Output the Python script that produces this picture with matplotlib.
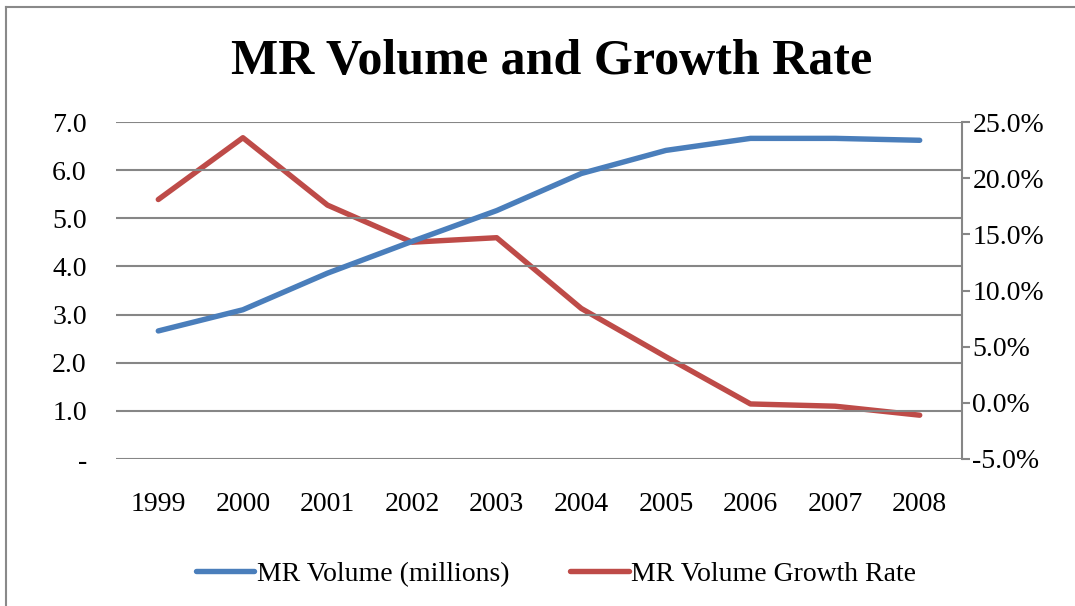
import matplotlib
matplotlib.use("Agg")
import matplotlib.pyplot as plt
from matplotlib.lines import Line2D
from matplotlib.ticker import FuncFormatter

years = ["1999", "2000", "2001", "2002", "2003", "2004", "2005", "2006", "2007", "2008"]
volume = [2.66, 3.10, 3.86, 4.52, 5.16, 5.93, 6.41, 6.66, 6.66, 6.62]
growth = [18.1, 23.6, 17.6, 14.3, 14.7, 8.4, 4.1, -0.1, -0.3, -1.1]

blue = "#4A7EBB"
red = "#BE4B48"
grid_grey = "#868686"

plt.rcParams["font.family"] = ["Liberation Serif", "DejaVu Serif"]

fig = plt.figure(figsize=(10.75, 6.06), dpi=100)
ax1 = fig.add_axes([116 / 1075, 1 - 459 / 606, (962 - 116) / 1075, (459 - 122) / 606])
ax2 = ax1.twinx()

x = range(len(years))
l1, = ax1.plot(x, volume, color=blue, lw=3.9, solid_capstyle="round", solid_joinstyle="round", zorder=3)
l2, = ax2.plot(x, growth, color=red, lw=3.9, solid_capstyle="round", solid_joinstyle="round", zorder=3)

ax1.set_xlim(-0.5, len(years) - 0.5)
ax1.set_ylim(0, 7)
ax1.set_yticks(range(8))
ax1.yaxis.set_major_formatter(FuncFormatter(lambda v, p: "-" if v == 0 else f"{v:.1f}"))
ax1.set_xticks(list(x))
ax1.set_xticklabels(years)
ax1.grid(axis="y", color=grid_grey, lw=1.5)
ax1.set_axisbelow(True)
ax1.tick_params(axis="y", length=0, pad=21, labelsize=20)
ax1.tick_params(axis="x", length=0, pad=24, labelsize=20)
for s in ["left", "top", "right", "bottom"]:
    ax1.spines[s].set_visible(False)

ax2.set_ylim(-5, 25)
ax2.set_yticks(range(-5, 26, 5))
ax2.yaxis.set_major_formatter(FuncFormatter(lambda v, p: f"{v:.1f}%"))
ax2.tick_params(axis="y", length=6, width=1.5, color=grid_grey, pad=1.5, labelsize=20)
for s in ["left", "top", "bottom"]:
    ax2.spines[s].set_visible(False)
ax2.spines["right"].set_color(grid_grey)
ax2.spines["right"].set_linewidth(1.5)
ax1.set_zorder(ax2.get_zorder() + 1)
ax1.patch.set_visible(False)

fig.text(552 / 1075, 1 - 62 / 606, "MR Volume and Growth Rate", ha="center", va="center",
         fontsize=36, fontweight="bold")

fig.legend([l1, l2], ["MR Volume (millions)", "MR Volume Growth Rate"],
           loc="center", bbox_to_anchor=(556 / 1075, 1 - 574 / 606), ncol=2, frameon=False,
           fontsize=20, handlelength=2.1, handletextpad=0.1, columnspacing=2.2)

# chart frame along the top and left edges
fig.add_artist(Line2D([6 / 1075, 6 / 1075], [0, 1 - 7 / 606], transform=fig.transFigure,
                      color="#898989", lw=1.5))
fig.add_artist(Line2D([6 / 1075, 1], [1 - 7 / 606, 1 - 7 / 606], transform=fig.transFigure,
                      color="#898989", lw=1.5))

fig.savefig("out.png", dpi=100)
